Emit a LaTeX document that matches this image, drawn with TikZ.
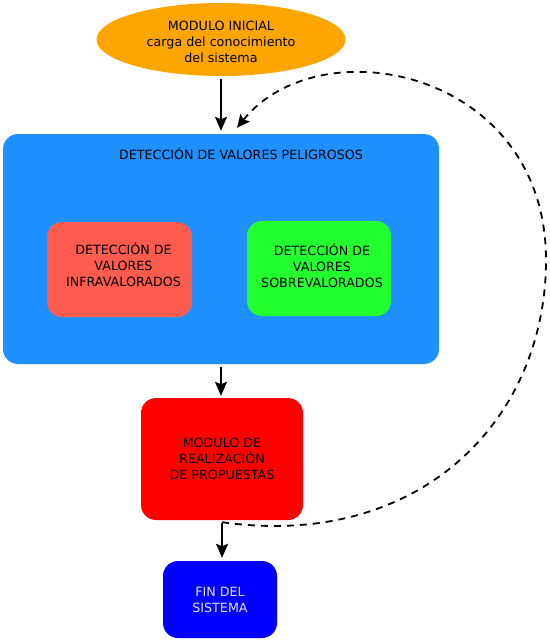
\documentclass[tikz,border=0pt]{standalone}
\usepackage{fontspec}
\setmainfont{DejaVu Sans}
\usepackage{xcolor}
\usepackage{tikz}
\usetikzlibrary{arrows.meta,positioning,shapes.geometric,calc}
\definecolor{initorange}{RGB}{255,165,0}
\definecolor{detectblue}{RGB}{30,144,255}
\definecolor{infrared}{RGB}{255,92,80}
\definecolor{sobregreen}{RGB}{36,255,48}
\definecolor{propred}{RGB}{255,0,0}
\definecolor{finblue}{RGB}{0,0,255}
\definecolor{fintext}{RGB}{225,225,255}

\begin{document}
\begin{tikzpicture}[
    x=1pt, y=-1pt,
    modfont/.style={font=\fontsize{12.7}{16}\selectfont, align=center},
    modbox/.style={rounded corners=15pt, fill=#1, modfont, inner sep=0pt},
    arrw/.style={-{Stealth[length=14pt,width=12pt,inset=2.5pt]}, black, line width=2pt,
        shorten <=3pt, shorten >=3pt},
    loop/.style={-{Stealth[length=13pt,width=12pt,inset=2.5pt]}, black, line width=1.8pt,
        dash pattern=on 7pt off 6pt},
]
\useasboundingbox (0,0) rectangle (549,642);

% === INITIAL MODULE ===
\node[ellipse, fill=initorange, inner sep=0pt,
    minimum width=249pt, minimum height=73pt] (init) at (221, 39.5) {};
\node[modfont] (inittext) at ([yshift=-2.5pt]init.center)
    {MODULO INICIAL\\carga del conocimiento\\del sistema};

% === DETECTION BLOCK ===
\node[modbox=detectblue, minimum width=436pt, minimum height=230pt] (detect) at (221, 249) {};
\node[modfont] (detecttitle) at ([xshift=20pt, yshift=-20pt]detect.north)
    {DETECCIÓN DE VALORES PELIGROSOS};
\node[modbox=infrared, minimum width=145pt, minimum height=95pt] (infra) at (119.5, 269.5) {};
\node[modfont] (infratext) at ([xshift=4pt, yshift=5pt]infra.center)
    {DETECCIÓN DE\\VALORES\\INFRAVALORADOS};
\node[modbox=sobregreen, minimum width=144pt, minimum height=95pt] (sobre) at (319, 268.5) {};
\node[modfont] (sobretext) at ([xshift=3pt, yshift=2.5pt]sobre.center)
    {DETECCIÓN DE\\VALORES\\SOBREVALORADOS};

% === PROPOSALS ===
\node[modbox=propred, minimum width=162pt, minimum height=122pt] (prop) at (222, 459)
    {MODULO DE\\REALIZACIÓN\\DE PROPUESTAS};

% === END ===
\node[modbox=finblue, text=fintext, minimum width=114pt, minimum height=77pt] (fin) at (220, 599.5)
    {FIN DEL\\SISTEMA};

% === ARROWS ===
\draw[arrw] (init.south) -- (init.south |- detect.north);
\draw[arrw, shorten >=2pt] (detect.south) -- (detect.south |- prop.north);
\draw[arrw] (prop.south) -- (prop.south |- fin.north);

% === FEEDBACK LOOP ===
\coordinate (loopin) at ([xshift=16pt, yshift=6pt]detect.north);
\draw[loop] ([yshift=-2pt]prop.south) .. controls (420, 550) and (546, 420) .. (546, 260)
    .. controls (546, 70) and (320, 25) .. (loopin);

\end{tikzpicture}
\end{document}
